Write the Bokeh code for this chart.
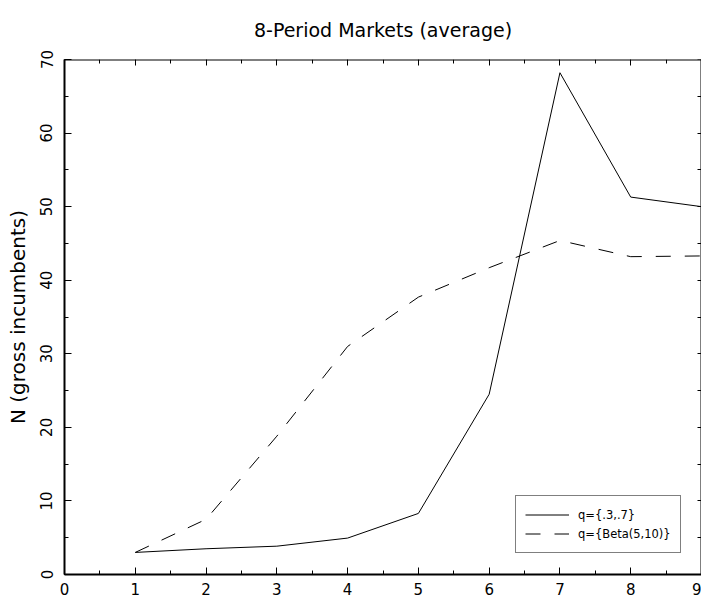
from bokeh.plotting import figure
from bokeh.models import (LinearAxis, SingleIntervalTicker, Range1d, Legend, LegendItem,
                          CustomLabelingPolicy)
from bokeh.embed import file_html
from bokeh.resources import INLINE

# ---- data ----
periods = [1, 2, 3, 4, 5, 6, 7, 8, 9]
n_fixed = [3.0, 3.5, 3.85, 4.95, 8.3, 24.5, 68.2, 51.3, 50.0]
n_beta = [3.0, 7.5, 18.8, 31.0, 37.7, 41.7, 45.4, 43.2, 43.3]
label_fixed = "q={.3,.7}"
label_beta = "q={Beta(5,10)}"
title_text = "8-Period Markets (average)"
ylabel_text = "N (gross incumbents)"

FONT = "DejaVu Sans"

p = figure(width=701, height=597, x_range=Range1d(0, 9), y_range=Range1d(0, 70),
           output_backend="svg", toolbar_location=None,
           min_border_left=64, min_border_right=0, min_border_top=59, min_border_bottom=23,
           title=title_text)
p.title.align = "center"
p.title.vertical_align = "top"
p.title.text_font = FONT
p.title.text_font_size = "19px"
p.title.text_font_style = "normal"
p.title.text_color = "black"
p.title.standoff = 33
p.outline_line_color = None
p.grid.visible = False
p.background_fill_color = "white"
p.border_fill_color = "white"

xa = p.xaxis[0]
xa.ticker = SingleIntervalTicker(interval=1, num_minor_ticks=2)
ya = p.yaxis[0]
ya.ticker = SingleIntervalTicker(interval=10, num_minor_ticks=2)

for ax in (xa, ya):
    ax.axis_line_width = 2
    ax.axis_line_color = "black"
    ax.major_tick_in = 7
    ax.major_tick_out = 0
    ax.minor_tick_in = 4
    ax.minor_tick_out = 0
    ax.major_tick_line_color = "black"
    ax.minor_tick_line_color = "black"
    ax.major_label_text_font = FONT
    ax.major_label_text_font_size = "15px"
    ax.major_label_text_color = "black"
xa.major_label_standoff = 8
ya.major_label_standoff = 12
ya.major_label_orientation = "vertical"
ya.axis_label = ylabel_text
ya.axis_label_text_font = FONT
ya.axis_label_text_font_size = "20px"
ya.axis_label_text_font_style = "normal"
ya.axis_label_text_color = "black"
ya.axis_label_standoff = 8

hide_all = "for (const i of indices) { indices.unset(i) }\nreturn indices"

top = LinearAxis(ticker=SingleIntervalTicker(interval=1, num_minor_ticks=2),
                 axis_line_width=2, major_tick_in=6, major_tick_out=0,
                 minor_tick_in=4, minor_tick_out=0,
                 major_label_text_font_size="1px", major_label_standoff=0,
                 major_label_policy=CustomLabelingPolicy(code=hide_all),
                 fixed_location=70)
p.add_layout(top, "above")
right = LinearAxis(ticker=SingleIntervalTicker(interval=5, num_minor_ticks=0),
                   axis_line_width=2, major_tick_in=4, major_tick_out=0,
                   minor_tick_in=0, minor_tick_out=0,
                   major_label_text_font_size="1px", major_label_standoff=0,
                   major_label_policy=CustomLabelingPolicy(code=hide_all),
                   fixed_location=9)
p.add_layout(right, "right")

r1 = p.line(periods, n_fixed, line_color="black", line_width=1)
r2 = p.line(periods, n_beta, line_color="black", line_width=1, line_dash="15 14")

legend = Legend(items=[LegendItem(label=label_fixed, renderers=[r1]),
                       LegendItem(label=label_beta, renderers=[r2])],
                location=(451, 21))
legend.border_line_color = "black"
legend.border_line_width = 1
legend.background_fill_alpha = 1
legend.label_text_font = FONT
legend.label_text_font_size = "11.5px"
legend.label_text_color = "black"
legend.glyph_width = 44
legend.glyph_height = 19
legend.label_height = 19
legend.spacing = 0
legend.padding = 9
legend.label_standoff = 9
legend.margin = 0
p.add_layout(legend)

open("out.html", "w").write(file_html(p, INLINE))
